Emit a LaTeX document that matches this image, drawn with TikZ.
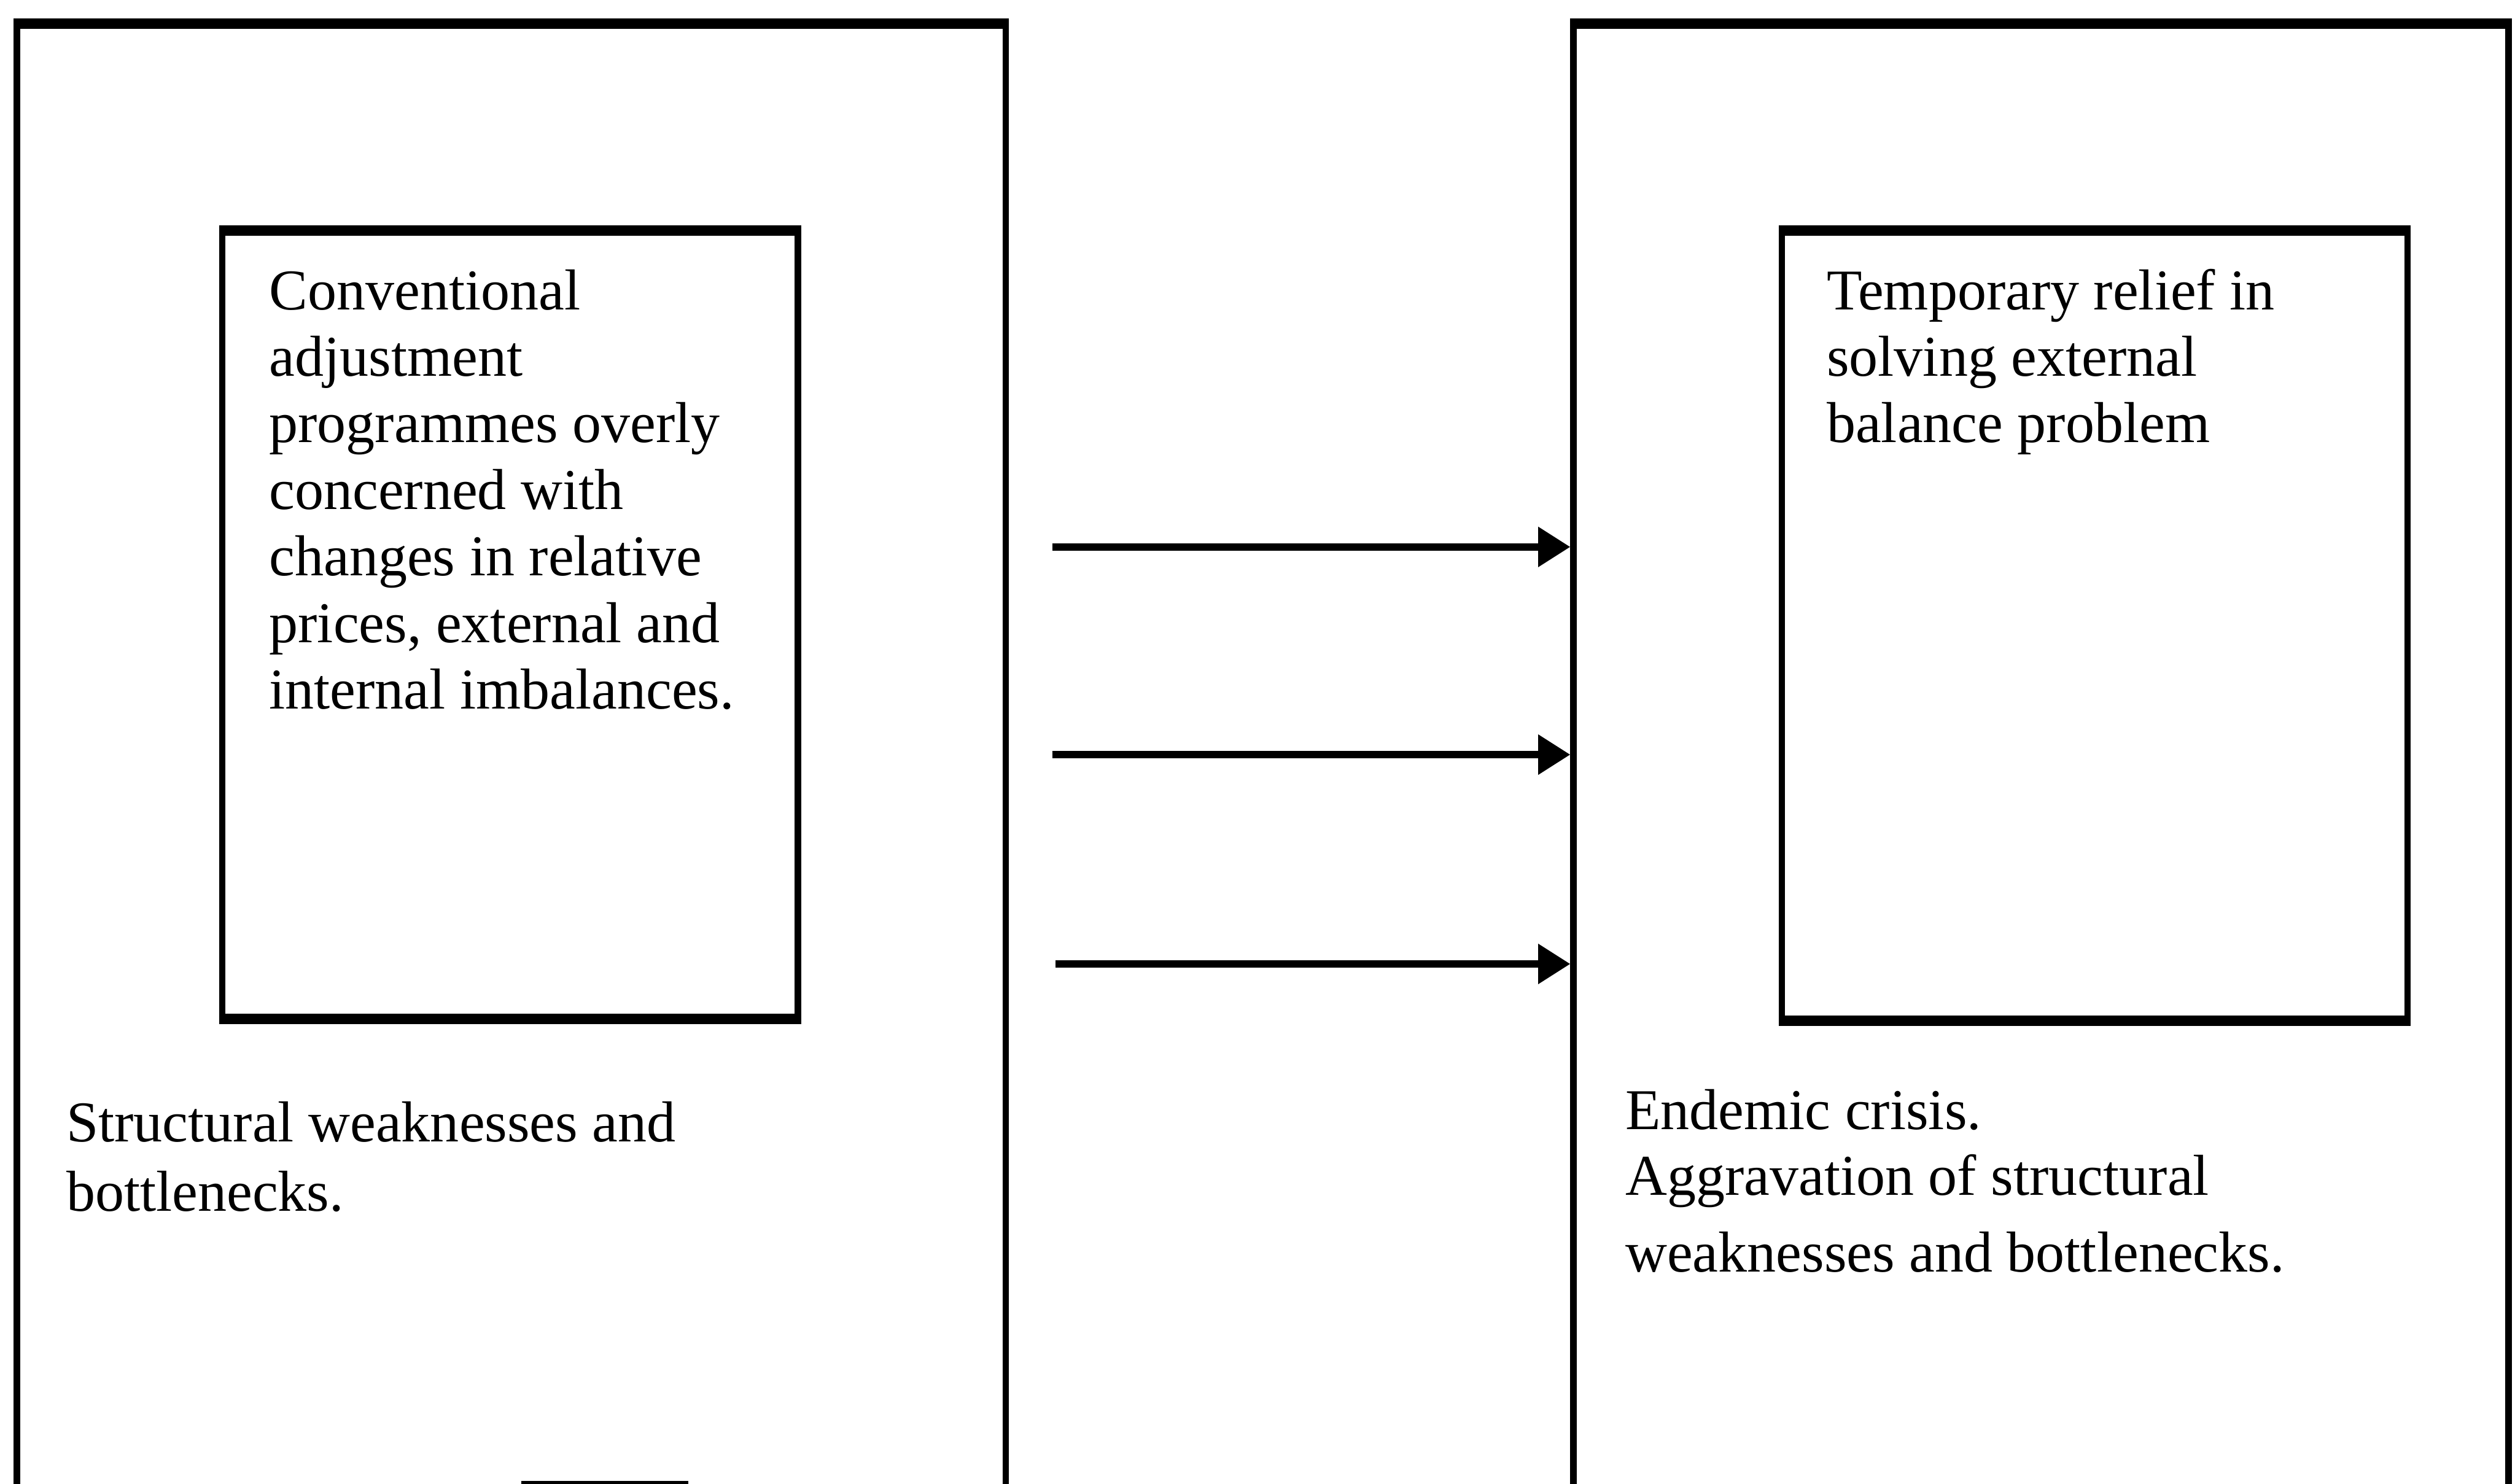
\documentclass[tikz,border=0pt]{standalone}
\usepackage{fontspec}
\setmainfont{Liberation Serif}
\usetikzlibrary{arrows.meta,fit}
\begin{document}
\begin{tikzpicture}[x=0.5pt,y=-0.5pt,
  frame/.style={draw, line width=2pt, inner sep=0pt},
  hedge/.style={line width=2.6pt},
  txt/.style={font=\fontsize{18pt}{20.75pt}\selectfont, align=left, inner sep=0pt, anchor=base west},
  flow/.style={line width=2.2pt, -{Triangle[length=10pt,width=12pt]}}]
\useasboundingbox (0,0) rectangle (1568,925);
\clip (0,0) rectangle (1568,925);
% outer boxes (cut off at the bottom)
\coordinate (L1) at (10.5,16); \coordinate (L2) at (627,1000);
\node[frame, fit=(L1)(L2)] (Louter) {};
\coordinate (R1) at (981,16); \coordinate (R2) at (1564,1000);
\node[frame, fit=(R1)(R2)] (Router) {};
% inner boxes
\coordinate (l1) at (138.5,145); \coordinate (l2) at (497.5,634);
\node[frame, fit=(l1)(l2)] (Linner) {};
\coordinate (r1) at (1111,145); \coordinate (r2) at (1501,635);
\node[frame, fit=(r1)(r2)] (Rinner) {};
% heavier horizontal edges
\draw[hedge] (Louter.north west) -- (Louter.north east);
\draw[hedge] (Router.north west) -- (Router.north east);
\draw[hedge] (Linner.north west) -- (Linner.north east);
\draw[hedge] (Linner.south west) -- (Linner.south east);
\draw[hedge] (Rinner.north west) -- (Rinner.north east);
\draw[hedge] (Rinner.south west) -- (Rinner.south east);
% texts (anchored at the baseline of their last line)
\node[txt] (conv) at (167.5,442) {Conventional\\adjustment\\programmes overly\\concerned with\\changes in relative\\prices, external and\\internal imbalances.};
\node[txt] (temp) at (1138.5,276) {Temporary relief in\\solving external\\balance problem};
\node[txt, font=\fontsize{18pt}{21.5pt}\selectfont] (struct) at (41,755) {Structural weaknesses and\\bottlenecks.};
\node[txt, font=\fontsize{18pt}{20.5pt}\selectfont] (endem) at (1013,793) {Endemic crisis.\\Aggravation of structural\\[3.5pt]weaknesses and bottlenecks.};
% arrows
\coordinate (s1) at (656,341);
\coordinate (s2) at (656,470.5);
\coordinate (s3) at (658,601);
\draw[flow] (s1) -- (s1 -| Router.west);
\draw[flow] (s2) -- (s2 -| Router.west);
\draw[flow] (s3) -- (s3 -| Router.west);
% fragment at the lower edge
\coordinate (f1) at (325,924.5); \coordinate (f2) at (429,924.5);
\draw[line width=1.2pt] (f1) -- (f2);
\end{tikzpicture}
\end{document}
